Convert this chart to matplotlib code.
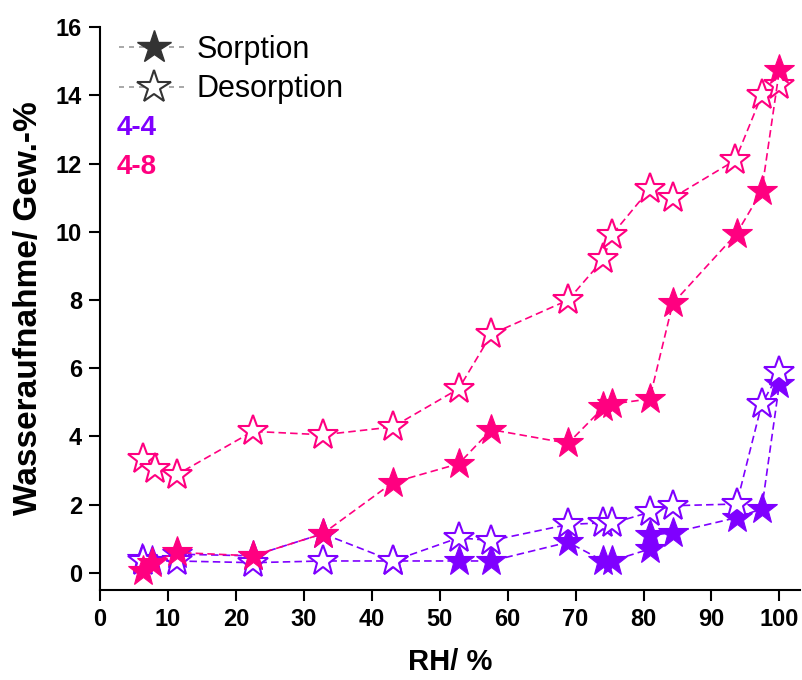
import matplotlib
matplotlib.use("Agg")
import matplotlib.pyplot as plt
from matplotlib.lines import Line2D

plt.rcParams["font.family"] = ["Liberation Sans", "DejaVu Sans"]

# ─── DATA ───

# 4-8 (pink)
rh_48_sorp = [6.3, 7.6, 11.3, 22.5, 32.8, 43.1, 52.8, 57.6, 68.9, 74.1, 75.3, 80.9, 84.3, 93.7, 97.4, 100.0]
w_48_sorp = [0.05, 0.3, 0.6, 0.5, 1.15, 2.65, 3.2, 4.2, 3.8, 4.85, 4.95, 5.1, 7.9, 9.95, 11.2, 14.75]

rh_48_desorp = [6.3, 8.1, 11.3, 22.5, 32.8, 43.1, 52.8, 57.6, 68.9, 74.1, 75.3, 80.9, 84.3, 93.5, 97.4, 100.0]
w_48_desorp = [3.35, 3.05, 2.88, 4.15, 4.05, 4.28, 5.4, 7.0, 8.0, 9.2, 9.9, 11.25, 11.0, 12.1, 14.0, 14.3]

# 4-4 (purple)
rh_44_sorp = [6.2, 7.6, 11.3, 22.5, 32.8, 43.1, 52.8, 57.6, 68.9, 74.1, 75.3, 80.9, 80.9, 84.3, 93.7, 97.4, 100.0]
w_44_sorp = [0.4, 0.35, 0.55, 0.5, 1.15, 0.35, 0.35, 0.35, 0.9, 0.35, 0.35, 0.7, 1.1, 1.18, 1.62, 1.88, 5.55]

rh_44_desorp = [6.3, 11.3, 22.5, 32.8, 43.1, 52.8, 57.6, 68.9, 74.1, 75.3, 80.9, 84.3, 93.7, 97.4, 100.0]
w_44_desorp = [0.35, 0.35, 0.3, 0.35, 0.35, 1.03, 0.95, 1.42, 1.47, 1.45, 1.78, 1.97, 2.02, 4.95, 5.88]

x_ticks = [0, 10, 20, 30, 40, 50, 60, 70, 80, 90, 100]
y_ticks = [0, 2, 4, 6, 8, 10, 12, 14, 16]

# ─── STYLE ───

PINK = "#FF0080"
PURPLE = "#7F00FF"
MS = 23
DASH = (4.5, 2.5)


def draw(ax, x, y, color, filled, z):
    ax.plot(
        x, y,
        linestyle="--", dashes=DASH, linewidth=1.2, color=color,
        marker="*", markersize=MS,
        markerfacecolor=color if filled else "white",
        markeredgecolor=color, markeredgewidth=1.5 if not filled else 0.8,
        zorder=z
    )


fig = plt.figure(figsize=(8.03, 6.8), dpi=100)
ax = fig.add_axes([0.1245, 0.1324, 0.8715, 0.8276])

draw(ax, rh_44_sorp, w_44_sorp, PURPLE, True, 2)
draw(ax, rh_44_desorp, w_44_desorp, PURPLE, False, 3)
draw(ax, rh_48_desorp, w_48_desorp, PINK, False, 4)
draw(ax, rh_48_sorp, w_48_sorp, PINK, True, 5)

ax.set_xlim(0, 103)
ax.set_ylim(-0.5, 16)
ax.set_xticks(x_ticks)
ax.set_yticks(y_ticks)
ax.tick_params(direction="out", length=8, width=1.5, labelsize=17, pad=5)
for lab in ax.get_xticklabels() + ax.get_yticklabels():
    lab.set_fontweight("bold")

ax.spines[["top", "right"]].set_visible(False)
ax.spines[["left", "bottom"]].set_linewidth(1.5)

ax.set_xlabel("RH/ %", fontsize=21, fontweight="bold", labelpad=12)
ax.set_ylabel("Wasseraufnahme/ Gew.-%", fontsize=24, fontweight="bold", labelpad=8)

# legend
handles = [
    Line2D([], [], linestyle="--", dashes=(3, 3), color="#999999", linewidth=1.2,
           marker="*", markersize=MS + 2, markerfacecolor="#333333", markeredgecolor="#333333"),
    Line2D([], [], linestyle="--", dashes=(3, 3), color="#999999", linewidth=1.2,
           marker="*", markersize=MS + 2, markerfacecolor="white", markeredgecolor="#333333",
           markeredgewidth=1.5),
]
ax.legend(handles, ["Sorption", "Desorption"], loc="upper left", bbox_to_anchor=(-0.004, 1.024),
          frameon=False, fontsize=22, handlelength=2.3, handletextpad=0.25, labelspacing=0.3,
          borderaxespad=0.3)

ax.text(0.024, 0.82, "4-4", transform=ax.transAxes, color=PURPLE, fontsize=20,
        fontweight="bold", va="center")
ax.text(0.024, 0.752, "4-8", transform=ax.transAxes, color=PINK, fontsize=20,
        fontweight="bold", va="center")

plt.savefig("out.png", dpi=100)
plt.close()
